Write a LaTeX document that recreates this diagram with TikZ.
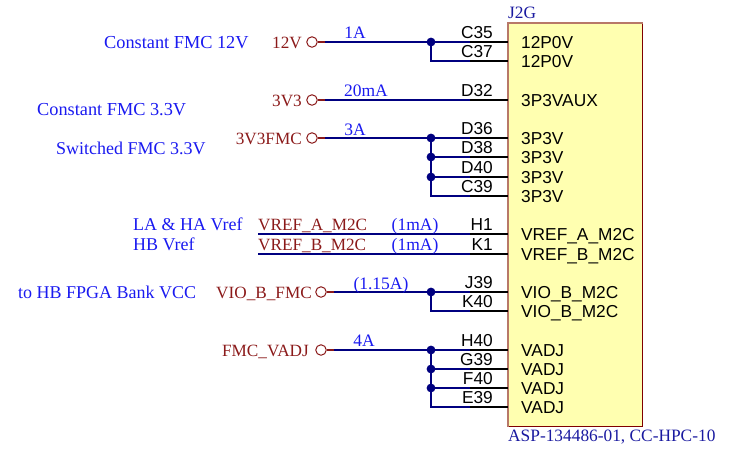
\documentclass[tikz,border=0pt]{standalone}
\usepackage{fontspec}
\setmainfont{Liberation Serif}
\newfontfamily\pinfont{Liberation Sans}
\definecolor{netc}{HTML}{000080}
\definecolor{lblc}{HTML}{1A1AF0}
\definecolor{redc}{HTML}{8B1A1A}
\definecolor{boxf}{HTML}{FFFFB0}
\definecolor{boxd}{HTML}{800000}
\definecolor{boxe}{HTML}{B87868}
\definecolor{refc}{HTML}{1A1AA0}
\tikzset{
 x=1pt,y=-1pt,
 net/.style={draw=netc,line width=1.6pt},
 pinl/.style={draw=black,line width=1.6pt},
 stub/.style={draw=redc,line width=1.5pt},
 port/.style={circle,draw=redc,line width=1pt,fill=white,minimum size=10.5pt,inner sep=0pt},
 dot/.style={circle,fill=netc,minimum size=8.8pt,inner sep=0pt},
 comp/.style={draw=boxd,line width=1pt,fill=boxf},
 compedge/.style={draw=boxe,line width=1.4pt},
 blu/.style={text=lblc,font=\fontsize{18.3}{19}\selectfont,inner sep=0pt},
 blus/.style={text=lblc,font=\fontsize{18}{19}\selectfont,inner sep=0pt},
 cur/.style={text=lblc,font=\fontsize{17.5}{18}\selectfont,inner sep=0pt,anchor=base},
 nam/.style={text=redc,font=\fontsize{17.2}{18}\selectfont,inner sep=0pt,anchor=base east},
 vref/.style={text=redc,font=\fontsize{17.2}{18}\selectfont,inner sep=0pt,anchor=base west},
 pnum/.style={text=black,font=\pinfont\fontsize{17.3}{18}\selectfont,inner sep=0pt,anchor=base east},
 pnam/.style={text=black,font=\pinfont\fontsize{17.3}{18}\selectfont,inner sep=0pt,anchor=base west},
 refd/.style={text=refc,font=\fontsize{17.35}{18}\selectfont,inner sep=0pt,anchor=base west},
}
\newcommand{\pin}[5]{% id, y, number, name, name x
 \coordinate (e#1) at (508,#2);
 \coordinate (t#1) at (470,#2);
 \node[pnum] (n#1) at (#5,#2-4) {#3};
 \node[pnam] (l#1) at (521,#2+6) {#4};
}
\begin{document}
\begin{tikzpicture}
\useasboundingbox (0,0) rectangle (737,448);
\node[comp,minimum width=134pt,minimum height=403pt,inner sep=0pt,anchor=north west] (box) at (508,23) {};
\draw[compedge] (box.south west) -- (box.north west) -- (box.north east);
\node[refd] (j2g) at (508,18) {J2G};
\node[refd] (asp) at (508,441) {ASP-134486-01, CC-HPC-10};

\pin{a}{42}{C35}{12P0V}{493}
\pin{b}{61}{C37}{12P0V}{493}
\pin{c}{100}{D32}{3P3VAUX}{493}
\pin{d}{138}{D36}{3P3V}{493}
\pin{e}{157}{D38}{3P3V}{493}
\pin{f}{177}{D40}{3P3V}{493}
\pin{g}{196}{C39}{3P3V}{493}
\pin{h}{234}{H1}{VREF\_A\_M2C}{493}
\pin{i}{254}{K1}{VREF\_B\_M2C}{493}
\pin{j}{292}{J39}{VIO\_B\_M2C}{493}
\pin{k}{311}{K40}{VIO\_B\_M2C}{493}
\pin{m}{350}{H40}{VADJ}{493}
\pin{n}{369}{G39}{VADJ}{493}
\pin{o}{388}{F40}{VADJ}{493}
\pin{p}{407}{E39}{VADJ}{493}

\foreach \q in {a,b,c,d,e,f,g,h,i,j,k,m,n,o,p}{\draw[pinl] (t\q) -- (e\q);}

% ports
\node[port] (p12) at (312,42) {};
\node[port] (p33) at (312,100) {};
\node[port] (p33f) at (312,138) {};
\node[port] (pvio) at (321,292) {};
\node[port] (pvadj) at (321,350) {};
\coordinate (s12) at (325,42);
\coordinate (s33) at (325,100);
\coordinate (s33f) at (325,138);
\coordinate (svio) at (334,292);
\coordinate (svadj) at (334,350);
\coordinate (vra) at (258,234);
\coordinate (vrb) at (258,254);
\draw[stub] (p12) -- (s12);
\draw[stub] (p33) -- (s33);
\draw[stub] (p33f) -- (s33f);
\draw[stub] (pvio) -- (svio);
\draw[stub] (pvadj) -- (svadj);

% junctions
\node[dot] (j1) at (431,42) {};
\node[dot] (j2) at (431,138) {};
\node[dot] (j3) at (431,157) {};
\node[dot] (j4) at (431,177) {};
\node[dot] (j5) at (431,292) {};
\node[dot] (j6) at (431,350) {};
\node[dot] (j7) at (431,369) {};
\node[dot] (j8) at (431,388) {};

% nets
\draw[net] (s12) -- (ta);
\draw[net] (j1.center) |- (tb);
\draw[net] (s33) -- (tc);
\draw[net] (s33f) -- (td);
\draw[net] (j3.center) -- (te);
\draw[net] (j4.center) -- (tf);
\draw[net] (j2.center) |- (tg);
\draw[net] (vra) -- (th);
\draw[net] (vrb) -- (ti);
\draw[net] (svio) -- (tj);
\draw[net] (j5.center) |- (tk);
\draw[net] (svadj) -- (tm);
\draw[net] (j7.center) -- (tn);
\draw[net] (j8.center) -- (to);
\draw[net] (j6.center) |- (tp);

% net names
\node[nam] (t12) at (302,48) {12V};
\node[nam] (t33) at (302,106) {3V3};
\node[nam] (t33f) at (302,144) {3V3FMC};
\node[nam] (tvio) at (312,298) {VIO\_B\_FMC};
\node[nam] (tvadj) at (309,356) {FMC\_VADJ};
\node[vref] (tvra) at (258,230) {VREF\_A\_M2C};
\node[vref] (tvrb) at (258,250) {VREF\_B\_M2C};

% currents
\node[cur] (c1) at (355,38) {1A};
\node[cur] (c2) at (366,96) {20mA};
\node[cur] (c3) at (355,135) {3A};
\node[cur] (c4) at (415,230) {(1mA)};
\node[cur] (c5) at (415,250) {(1mA)};
\node[cur] (c6) at (381,289) {(1.15A)};
\node[cur] (c7) at (364,346) {4A};

% comments
\node[blu,anchor=base west] (d1) at (104,48) {Constant FMC 12V};
\node[blu,anchor=base west] (d2) at (37,115) {Constant FMC 3.3V};
\node[blus,anchor=base west] (d3) at (56,154) {Switched FMC 3.3V};
\node[blus,anchor=base west] (d4) at (133,230) {LA \& HA Vref};
\node[blus,anchor=base west] (d5) at (133,250) {HB Vref};
\node[blus,anchor=base west] (d6) at (18,298) {to HB FPGA Bank VCC};
\end{tikzpicture}
\end{document}
